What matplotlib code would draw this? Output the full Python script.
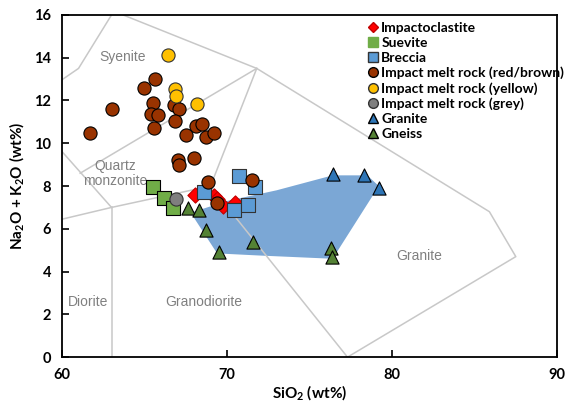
import matplotlib
matplotlib.use("Agg")
import matplotlib.pyplot as plt
from matplotlib.lines import Line2D

plt.rcParams["mathtext.fontset"] = "custom"
plt.rcParams["mathtext.rm"] = "Lato:bold"
plt.rcParams["mathtext.it"] = "Lato:bold"
plt.rcParams["mathtext.bf"] = "Lato:bold"
plt.rcParams["mathtext.default"] = "rm"

# ---- data ----
impactoclastite_x = [68.05, 69.2, 69.4, 69.75, 70.5]
impactoclastite_y = [7.6, 7.55, 7.4, 7.05, 7.2]

suevite_x = [65.5, 66.2, 66.7]
suevite_y = [7.95, 7.45, 6.95]

breccia_x = [70.75, 71.7, 68.6, 70.4, 71.3]
breccia_y = [8.45, 7.95, 7.7, 6.9, 7.1]

melt_brown_x = [61.7, 63.0, 64.95, 65.65, 65.5, 65.4, 65.8, 65.55, 66.8, 67.1, 66.85,
                67.5, 68.1, 68.5, 68.7, 69.2, 67.0, 67.1, 68.0, 68.85, 71.5, 69.4]
melt_brown_y = [10.5, 11.6, 12.6, 13.0, 11.9, 11.35, 11.3, 10.7, 11.8, 11.6, 11.05,
                10.4, 10.8, 10.9, 10.3, 10.5, 9.2, 9.0, 9.3, 8.2, 8.3, 7.2]

melt_yellow_x = [66.4, 66.85, 66.9, 68.2]
melt_yellow_y = [14.15, 12.55, 12.2, 11.85]

melt_grey_x = [66.9]
melt_grey_y = [7.4]

granite_x = [76.45, 78.3, 79.2]
granite_y = [8.55, 8.5, 7.9]

gneiss_x = [67.65, 68.3, 68.7, 69.5, 71.55, 76.3, 76.35]
gneiss_y = [6.95, 6.9, 5.95, 4.9, 5.4, 5.1, 4.7]

# shaded field (outline)
field_x = [67.8, 69.4, 72.0, 76.4, 79.2, 78.5, 76.4, 73.0, 70.0]
field_y = [6.75, 4.85, 4.75, 4.6, 8.0, 8.5, 8.5, 7.8, 7.3]

# classification boundary lines (Middlemost 1994, plutonic)
boundaries = [
    ([63.0, 61.0, 57.6], [16.0, 13.5, 11.7]),
    ([63.7, 71.8, 85.9, 87.5, 77.3], [16.0, 13.5, 6.8, 4.7, 0.0]),
    ([71.8, 61.1], [13.5, 8.6]),
    ([71.8, 69.0, 77.3], [13.5, 8.0, 0.0]),
    ([57.0, 63.0, 69.0], [5.9, 7.0, 8.0]),
    ([63.0, 63.0], [0.0, 7.0]),
    ([63.0, 57.6], [7.0, 11.7]),
]

field_labels = ["Syenite", "Quartz\nmonzonite", "Diorite", "Granodiorite", "Granite"]
field_label_x = [63.65, 63.2, 61.6, 68.6, 81.65]
field_label_y = [14.05, 8.6, 2.6, 2.6, 4.72]

fig = plt.figure(figsize=(5.69, 4.04), dpi=100)
ax = fig.add_axes([0.109, 0.116, 0.870, 0.847])

ax.fill(field_x, field_y, color="#7BA7D5", lw=0, zorder=1)
for bx, by in boundaries:
    ax.plot(bx, by, color="#C8C8C8", lw=1.1, zorder=2)

for t, tx, ty in zip(field_labels, field_label_x, field_label_y):
    ax.text(tx, ty, t, color="#808080", fontsize=10, ha="center", va="center",
            family="Liberation Sans", linespacing=1.1, zorder=3)

s = 90
ax.scatter(impactoclastite_x, impactoclastite_y, marker="D", s=60, c="#FF0000",
           edgecolors="#C00000", linewidths=0.8, zorder=4)
ax.scatter(suevite_x, suevite_y, marker="s", s=s, c="#70AD47", edgecolors="black",
           linewidths=0.8, zorder=5)
ax.scatter(breccia_x, breccia_y, marker="s", s=s, c="#5B9BD5", edgecolors="#333333",
           linewidths=0.8, zorder=6)
ax.scatter(melt_brown_x, melt_brown_y, marker="o", s=s, c="#993300", edgecolors="black",
           linewidths=0.8, zorder=7)
ax.scatter(melt_yellow_x, melt_yellow_y, marker="o", s=s, c="#FFC000", edgecolors="#333333",
           linewidths=0.8, zorder=8)
ax.scatter(melt_grey_x, melt_grey_y, marker="o", s=s, c="#7F7F7F", edgecolors="#333333",
           linewidths=0.8, zorder=9)
ax.scatter(granite_x, granite_y, marker="^", s=s, c="#2E75B6", edgecolors="black",
           linewidths=0.8, zorder=10)
ax.scatter(gneiss_x, gneiss_y, marker="^", s=s, c="#548235", edgecolors="black",
           linewidths=0.8, zorder=11)

ax.set_xlim(60, 90)
ax.set_ylim(0, 16)
ax.set_xticks([60, 70, 80, 90])
ax.set_yticks(range(0, 17, 2))
ax.tick_params(direction="in", length=5, width=1.2, labelsize=10.5, pad=8)
for lab in ax.get_xticklabels() + ax.get_yticklabels():
    lab.set_fontweight("bold")
    lab.set_family("Lato")
for sp in ax.spines.values():
    sp.set_linewidth(1.3)

ax.set_xlabel("SiO$_2$ (wt%)", fontsize=11, fontweight="bold", family="Lato", labelpad=1)
ax.set_ylabel("Na$_2$O + K$_2$O (wt%)", fontsize=11, fontweight="bold", family="Lato", labelpad=6)

handles = [
    Line2D([], [], ls="", marker="D", ms=5.5, mfc="#FF0000", mec="#C00000", label="Impactoclastite"),
    Line2D([], [], ls="", marker="s", ms=7, mfc="#70AD47", mec="#70AD47", label="Suevite"),
    Line2D([], [], ls="", marker="s", ms=7, mfc="#5B9BD5", mec="#333333", label="Breccia"),
    Line2D([], [], ls="", marker="o", ms=7, mfc="#993300", mec="black", label="Impact melt rock (red/brown)"),
    Line2D([], [], ls="", marker="o", ms=7, mfc="#FFC000", mec="#333333", label="Impact melt rock (yellow)"),
    Line2D([], [], ls="", marker="o", ms=7, mfc="#7F7F7F", mec="#333333", label="Impact melt rock (grey)"),
    Line2D([], [], ls="", marker="^", ms=7, mfc="#2E75B6", mec="black", label="Granite"),
    Line2D([], [], ls="", marker="^", ms=7, mfc="#548235", mec="black", label="Gneiss"),
]
leg = ax.legend(handles=handles, loc="upper left", bbox_to_anchor=(0.603, 0.995),
                frameon=False, handletextpad=0.1, handlelength=1.0, labelspacing=0.2,
                borderaxespad=0, prop={"family": "Lato", "weight": "bold", "size": 10})

fig.savefig("out.png", dpi=100)
